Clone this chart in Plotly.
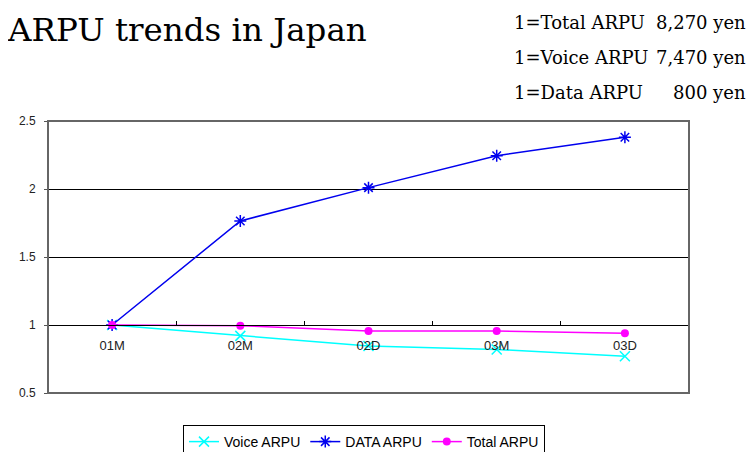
import plotly.graph_objects as go

categories = ["01M", "02M", "02D", "03M", "03D"]
voice_arpu = [1.0, 0.92, 0.845, 0.82, 0.77]
data_arpu = [1.0, 1.765, 2.01, 2.245, 2.38]
total_arpu = [1.0, 0.995, 0.955, 0.955, 0.94]
y_ticks = [0.5, 1, 1.5, 2, 2.5]
y_ticklabels = ["0.5", "1", "1.5", "2", "2.5"]
base_labels = ["1=Total ARPU", "1=Voice ARPU", "1=Data ARPU"]
base_values = ["8,270 yen", "7,470 yen", "800 yen"]

# the page body adds an 8px margin, so work in figure pixels = page pixels - 8
OFF = 8
W, H = 756 - 2 * OFF, 452 - OFF
L, R, T, B = 48 - OFF, 689 - OFF, 121 - OFF, 393 - OFF

def px(x):
    return (x - OFF - L) / (R - L)

def py(y):
    return (B - (y - OFF)) / (B - T)

fig = go.Figure()
fig.add_trace(go.Scatter(x=categories, y=voice_arpu, name="Voice ARPU", mode="lines+markers",
                         line=dict(color="#00FFFF", width=1.5),
                         marker=dict(symbol="x-thin-open", size=10, color="#00FFFF",
                                     line=dict(color="#00FFFF", width=1.5))))
fig.add_trace(go.Scatter(x=categories, y=data_arpu, name="DATA ARPU", mode="lines+markers",
                         line=dict(color="#0000EE", width=1.5),
                         marker=dict(symbol="asterisk-open", size=10, color="#0000EE",
                                     line=dict(color="#0000EE", width=1.5))))
fig.add_trace(go.Scatter(x=categories, y=total_arpu, name="Total ARPU", mode="lines+markers",
                         line=dict(color="#FF00FF", width=1.5),
                         marker=dict(symbol="circle", size=8, color="#FF00FF")))

sans = "Liberation Sans, Arial, sans-serif"
serif = "DejaVu Serif, serif"

fig.update_layout(
    width=W, height=H,
    margin=dict(l=L, r=W - R, t=T, b=H - B, pad=0, autoexpand=False),
    paper_bgcolor="white", plot_bgcolor="white",
    showlegend=True,
    legend=dict(orientation="h", x=px(364), xanchor="center", y=py(425), yanchor="top",
                bordercolor="black", borderwidth=1, font=dict(family=sans, size=14, color="black"),
                itemwidth=30, tracegroupgap=0),
    title=dict(text="ARPU trends in Japan", x=0, xanchor="left", xref="container",
               y=1 - 22 / H, yanchor="middle", yref="container",
               font=dict(family=serif, size=32.5, color="black")),
    xaxis=dict(type="category", categoryorder="array", categoryarray=categories,
               range=[-0.5, 4.5], anchor="free", position=0.25, automargin=False,
               showline=True, linecolor="black", linewidth=1,
               ticks="inside", ticklen=4, tickcolor="black", tickson="boundaries",
               showgrid=False, zeroline=False, ticklabelstandoff=8,
               tickfont=dict(family=sans, size=13, color="#222")),
    yaxis=dict(range=[0.5, 2.5], tickvals=y_ticks, ticktext=y_ticklabels, automargin=False,
               showgrid=True, gridcolor="black", gridwidth=1, zeroline=False,
               showline=False, ticks="outside", ticklen=3, tickcolor="#555",
               ticklabelstandoff=6,
               tickfont=dict(family=sans, size=12, color="#222")),
    shapes=[dict(type="rect", xref="paper", yref="paper", x0=0, x1=1, y0=0, y1=1,
                 line=dict(color="#666666", width=2), layer="above")],
)

ys = [23, 58, 93]
xs_val = [748, 748, 748]
for lab, val, yy, xv in zip(base_labels, base_values, ys, xs_val):
    fig.add_annotation(text=lab, x=px(512), y=py(yy), xref="paper", yref="paper",
                       xanchor="left", yanchor="middle", showarrow=False,
                       font=dict(family=serif, size=18, color="black"))
    fig.add_annotation(text=val, x=px(xv), y=py(yy), xref="paper", yref="paper",
                       xanchor="right", yanchor="middle", showarrow=False,
                       font=dict(family=serif, size=18, color="black"))

fig.write_html("out.html")
